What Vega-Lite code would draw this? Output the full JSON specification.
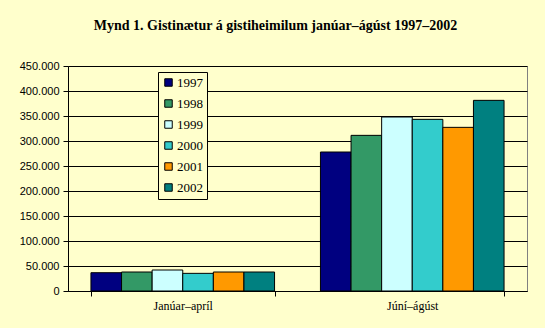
{
  "$schema": "https://vega.github.io/schema/vega-lite/v6.json",
  "width": 459,
  "height": 225,
  "autosize": {"type": "none"},
  "padding": {"left": 68, "top": 66, "right": 18, "bottom": 37},
  "background": "#FFFFCC",
  "title": {
    "text": "Mynd 1.  Gistinætur á gistiheimilum janúar–ágúst 1997–2002",
    "font": "Liberation Serif",
    "fontSize": 14,
    "fontWeight": "bold",
    "color": "black",
    "anchor": "middle",
    "frame": "group",
    "dx": -22,
    "offset": 27
  },
  "data": {
    "values": [
      {"period": "Janúar–apríl", "year": "1997", "value": 36600},
      {"period": "Janúar–apríl", "year": "1998", "value": 38000},
      {"period": "Janúar–apríl", "year": "1999", "value": 42000},
      {"period": "Janúar–apríl", "year": "2000", "value": 35300},
      {"period": "Janúar–apríl", "year": "2001", "value": 38000},
      {"period": "Janúar–apríl", "year": "2002", "value": 38000},
      {"period": "Júní–ágúst", "year": "1997", "value": 278000},
      {"period": "Júní–ágúst", "year": "1998", "value": 311300},
      {"period": "Júní–ágúst", "year": "1999", "value": 348000},
      {"period": "Júní–ágúst", "year": "2000", "value": 343300},
      {"period": "Júní–ágúst", "year": "2001", "value": 327300},
      {"period": "Júní–ágúst", "year": "2002", "value": 381300}
    ]
  },
  "mark": {"type": "bar", "stroke": "black", "strokeWidth": 1},
  "encoding": {
    "x": {
      "field": "period",
      "type": "nominal",
      "sort": null,
      "scale": {"paddingInner": 0.2, "paddingOuter": 0.1},
      "axis": {
        "title": null,
        "labelAngle": 0,
        "labelFont": "Liberation Serif",
        "labelFontSize": 12,
        "labelColor": "black",
        "tickBand": "extent",
        "tickSize": 5,
        "tickColor": "black",
        "domainColor": "black",
        "labelPadding": 4,
        "grid": false
      }
    },
    "xOffset": {"field": "year", "type": "nominal", "scale": {"paddingInner": 0, "paddingOuter": 0}},
    "y": {
      "field": "value",
      "type": "quantitative",
      "scale": {"domain": [0, 450000], "nice": false},
      "axis": {
        "title": null,
        "values": [0, 50000, 100000, 150000, 200000, 250000, 300000, 350000, 400000, 450000],
        "format": ",d",
        "labelFont": "Liberation Sans",
        "labelFontSize": 11,
        "labelColor": "black",
        "tickSize": 5,
        "tickColor": "black",
        "domainColor": "black",
        "labelPadding": 4,
        "grid": true,
        "gridColor": "black",
        "gridOpacity": 1
      }
    },
    "color": {
      "field": "year",
      "type": "nominal",
      "scale": {
        "domain": ["1997", "1998", "1999", "2000", "2001", "2002"],
        "range": ["#000080", "#339966", "#CCFFFF", "#33CCCC", "#FF9900", "#008080"]
      },
      "legend": {
        "title": null,
        "orient": "none",
        "legendX": 90,
        "legendY": 6,
        "symbolType": "square",
        "symbolSize": 56,
        "symbolStrokeColor": "black",
        "symbolStrokeWidth": 1,
        "labelFont": "Liberation Serif",
        "labelFontSize": 13,
        "labelColor": "black",
        "labelOffset": 2,
        "rowPadding": 7,
        "padding": 4,
        "strokeColor": "black",
        "fillColor": "#FFFFCC"
      }
    }
  },
  "config": {
    "locale": {
      "number": {"decimal": ",", "thousands": ".", "grouping": [3], "currency": ["", " kr."]}
    },
    "view": {"stroke": "#808080", "strokeWidth": 1},
    "axis": {"domainWidth": 1, "gridWidth": 1}
  }
}
